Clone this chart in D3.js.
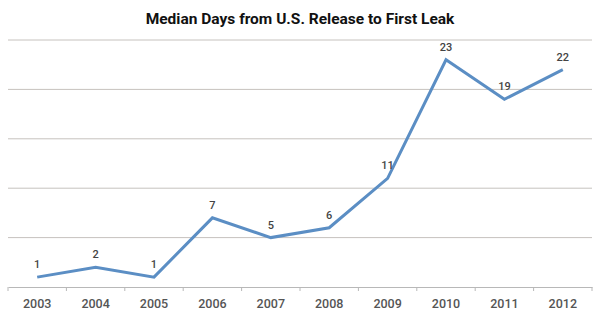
<!DOCTYPE html>
<html><head><meta charset="utf-8">
<script src="https://cdn.jsdelivr.net/npm/d3@7"></script>
<style>body{margin:0;background:#fff}svg{display:block}</style>
</head><body>
<svg id="c" width="600" height="323"></svg>
<script>
const title = "Median Days from U.S. Release to First Leak";
const years = ["2003","2004","2005","2006","2007","2008","2009","2010","2011","2012"];
const days = [1,2,1,7,5,6,11,23,19,22];
const yTicks = [0,5,10,15,20,25];

(function(){
const svg = d3.select("#c");
const mLeft = 8, mRight = 592, mTop = 40, mBottom = 287;
const x = d3.scaleBand().domain(years).range([mLeft, mRight]);
const y = d3.scaleLinear().domain([0, 25]).range([mBottom, mTop]);

svg.append("text").attr("x", 300).attr("y", 24).attr("text-anchor", "middle")
  .attr("font-family", "Roboto, 'Liberation Sans', sans-serif").attr("font-weight", "bold")
  .attr("font-size", 15.5).attr("fill", "#111").text(title);

svg.append("g").selectAll("line").data(yTicks.filter(d => d > 0)).join("line")
  .attr("x1", mLeft).attr("x2", mRight).attr("y1", d => y(d)).attr("y2", d => y(d))
  .attr("stroke", "#c6c2be").attr("stroke-width", 1);

const ax = svg.append("g").attr("transform", `translate(0,${mBottom})`)
  .call(d3.axisBottom(x).tickSize(0).tickPadding(12));
ax.select(".domain").attr("stroke", "#b8b8b8");
ax.selectAll("text").attr("font-family", "Roboto, 'Liberation Sans', sans-serif")
  .attr("font-size", 12.5).attr("font-weight", 500).attr("fill", "#555");
svg.append("g").selectAll("line").data(years.concat(["end"])).join("line")
  .attr("x1", (d,i) => mLeft + i * x.step()).attr("x2", (d,i) => mLeft + i * x.step())
  .attr("y1", mBottom).attr("y2", mBottom + 4).attr("stroke", "#b8b8b8");

const line = d3.line().x((d,i) => x(years[i]) + x.bandwidth()/2).y(d => y(d));
svg.append("path").datum(days).attr("d", line).attr("fill", "none")
  .attr("stroke", "#5b8ec4").attr("stroke-width", 3).attr("stroke-linejoin", "miter");

svg.append("g").selectAll("text").data(days).join("text")
  .attr("x", (d,i) => x(years[i]) + x.bandwidth()/2).attr("y", d => y(d) - 9)
  .attr("text-anchor", "middle").attr("font-family", "Roboto, 'Liberation Sans', sans-serif")
  .attr("font-size", 11).attr("font-weight", 500).attr("fill", "#444").text(d => d);
})();
</script>
</body></html>
